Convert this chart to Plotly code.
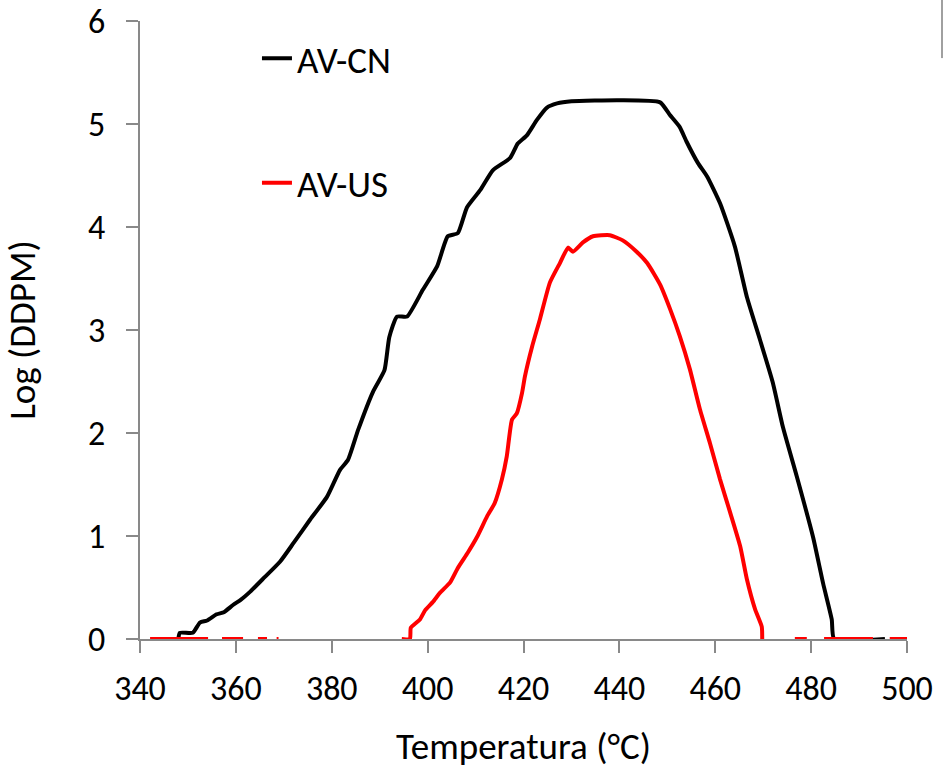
import plotly.graph_objects as go

# AV-CN (black) series
cn_temp = [348.0, 348.3, 351.0, 352.5, 354.0, 356.0, 357.5, 359.4, 361.0, 363.0, 366.0,
           369.2, 372.0, 375.5, 379.0, 381.7, 383.4, 385.5, 388.6, 391.0, 392.0, 393.6,
           395.7, 399.0, 402.0, 404.2, 406.3, 408.2, 411.0, 413.6, 417.2, 418.8, 420.7,
           422.8, 424.9, 427.0, 430.0, 440.0, 448.5, 450.5, 452.6, 454.0, 456.4, 458.3,
           461.0, 464.1, 466.6, 469.3, 472.0, 474.1, 477.0, 480.4, 482.5, 484.3, 484.8, 495.4]
cn_log = [0.0, 0.06, 0.06, 0.16, 0.18, 0.24, 0.26, 0.33, 0.38, 0.46, 0.60,
          0.75, 0.93, 1.16, 1.38, 1.64, 1.74, 2.03, 2.40, 2.61, 2.93, 3.13,
          3.13, 3.39, 3.62, 3.91, 3.94, 4.19, 4.36, 4.55, 4.67, 4.81, 4.89,
          5.04, 5.16, 5.20, 5.22, 5.23, 5.21, 5.09, 4.97, 4.83, 4.62, 4.49,
          4.23, 3.81, 3.32, 2.91, 2.49, 2.06, 1.58, 0.99, 0.54, 0.19, 0.0, 0.0]

# AV-US (red) series, None = missing values
us_temp = [342.1, 354.2, None, 357.1, 361.5, None, 364.6, 366.5, None, 368.5, 368.9, None,
           394.6, 396.3, 396.5, 398.4, 399.5, 401.1, 402.6, 404.7, 406.3, 408.4, 410.3,
           412.4, 414.0, 415.5, 416.5, 417.6, 418.6, 419.7, 420.3, 421.8, 423.4, 425.5,
           427.6, 429.3, 430.3, 432.4, 434.5, 438.0, 440.7, 443.6, 445.8, 448.5, 450.6,
           452.6, 454.7, 456.8, 458.9, 461.0, 463.1, 465.2, 466.6, 468.3, 469.7, 469.8, None,
           476.6, 479.1, None, 482.7, 492.9, None, 496.4, 500.2]
us_log = [0.0, 0.0, None, 0.0, 0.0, None, 0.0, 0.0, None, 0.0, 0.0, None,
          0.0, 0.0, 0.11, 0.19, 0.28, 0.36, 0.45, 0.55, 0.69, 0.84, 0.99,
          1.19, 1.32, 1.55, 1.77, 2.13, 2.19, 2.39, 2.55, 2.84, 3.10, 3.46,
          3.65, 3.80, 3.76, 3.85, 3.91, 3.92, 3.87, 3.76, 3.65, 3.44, 3.20,
          2.94, 2.62, 2.23, 1.90, 1.55, 1.23, 0.90, 0.58, 0.29, 0.12, 0.0, None,
          0.0, 0.0, None, 0.0, 0.0, None, 0.0, 0.0]

x_ticks = [340, 360, 380, 400, 420, 440, 460, 480, 500]
y_ticks = [0, 1, 2, 3, 4, 5, 6]

FONT = "Carlito, Calibri, Lato, sans-serif"

fig = go.Figure()
fig.add_trace(go.Scatter(x=cn_temp, y=cn_log, mode="lines", name="AV-CN",
                         line=dict(color="#000000", width=4, shape="spline", smoothing=0.5),
                         legend="legend"))
fig.add_trace(go.Scatter(x=us_temp, y=us_log, mode="lines", name="AV-US",
                         line=dict(color="#ff0000", width=4, shape="spline", smoothing=0.5),
                         connectgaps=False, legend="legend2"))

axis_common = dict(showgrid=False, zeroline=False, showline=True, linecolor="#898989",
                   linewidth=2, ticks="outside", tickcolor="#898989", ticklen=12,
                   tickwidth=2, automargin=False, ticklabeloverflow="allow",
                   tickfont=dict(size=34, color="#000000", family=FONT))

fig.update_layout(
    width=943, height=774,
    margin=dict(l=140, r=36, t=21, b=135),
    showlegend=True,
    paper_bgcolor="white", plot_bgcolor="white",
    font=dict(family=FONT, size=34, color="#000000"),
    xaxis=dict(range=[340, 500], tickvals=x_ticks, ticklabelstandoff=6,
               title=dict(text="Temperatura (°C)", font=dict(size=37), standoff=25),
               **axis_common),
    yaxis=dict(range=[0, 6], tickvals=y_ticks, ticklabelstandoff=14,
               title=dict(text="Log (DDPM)", font=dict(size=37), standoff=43),
               **axis_common),
    legend=dict(x=0.1525, y=0.939, xanchor="left", yanchor="middle",
                bgcolor="rgba(0,0,0,0)", font=dict(size=37)),
    legend2=dict(x=0.1525, y=0.7375, xanchor="left", yanchor="middle",
                 bgcolor="rgba(0,0,0,0)", font=dict(size=37)),
    shapes=[dict(type="line", xref="paper", yref="paper", x0=1.0456, x1=1.0456,
                 y0=0.940, y1=1.034, line=dict(color="#a0a0a0", width=2))],
)

fig.write_html("out.html", config={"displayModeBar": False},
               post_script="document.body.style.margin='0';")
